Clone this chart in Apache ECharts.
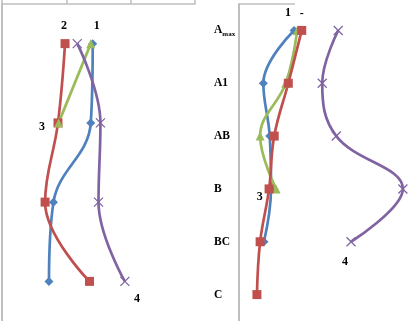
<!DOCTYPE html>
<html>
<head>
<meta charset="utf-8">
<script src="https://cdn.jsdelivr.net/npm/echarts@6/dist/echarts.min.js"></script>
<style>html,body{margin:0;padding:0;background:#fff}#c{width:408px;height:321px}</style>
</head>
<body>
<div id="c"></div>
<script>
// Left panel: 4 levels (top to bottom)
var leftLevels = ['L1', 'L2', 'L3', 'L4'];
var leftBlue = [141, 138, 80, 73];
var leftRed = [98, 87, 67, 136];
var leftGreen = [138, 88];
var leftPurple = [117, 153, 150, 191];

// Right panel: categories (top to bottom)
var rightLevels = ['Amax', 'A1', 'AB', 'B', 'BC', 'C'];
var rightBlue = [86, 38, 48, 50, 39];
var rightGreen = [91, 73, 33, 58];
var rightRed = [98, 77, 55, 47, 33, 28];
var rightPurple = [155, 130, 152, 256, 175];

var BLUE = '#4F81BD', RED = '#C0504D', GREEN = '#9BBB59', PURPLE = '#8064A2';
var XSYM = 'path://M0,0L10,10M10,0L0,10';
var lblStyle = {fontFamily: 'Liberation Serif', fontWeight: 'bold', fontSize: 12, color: '#000'};

function withLabels(arr, labels) {
  return arr.map(function (v, i) {
    if (labels[i]) {
      return {value: v, label: Object.assign({show: true, formatter: labels[i].t, position: labels[i].p, offset: labels[i].o || [0, 0]}, lblStyle)};
    }
    return v;
  });
}

function mk(name, data, color, symbol, xi) {
  return {
    name: name, type: 'line', xAxisIndex: xi, yAxisIndex: xi,
    data: data, smooth: 0.4, symbol: symbol, symbolSize: 9,
    lineStyle: {color: color, width: 2.7},
    itemStyle: {color: symbol === XSYM ? 'none' : color, borderColor: color, borderWidth: symbol === XSYM ? 1.3 : 0},
    z: 2
  };
}

var chart = echarts.init(document.getElementById('c'), null, {renderer: 'canvas'});
chart.setOption({
  backgroundColor: '#fff',
  animation: false,
  grid: [
    {left: 2, top: 4, width: 193, height: 320},
    {left: 239, top: 4, width: 169, height: 317}
  ],
  xAxis: [
    {gridIndex: 0, type: 'value', position: 'top', min: 0, max: 300, interval: 100,
     axisLine: {show: true, lineStyle: {color: '#BFBFBF', width: 1.5}},
     axisTick: {show: true, inside: false, length: 4, lineStyle: {color: '#BFBFBF', width: 1.5}},
     axisLabel: {show: false}, splitLine: {show: false}},
    {gridIndex: 1, type: 'value', position: 'top', min: 0, max: 264,
     axisLine: {show: false}, axisTick: {show: false}, axisLabel: {show: false}, splitLine: {show: false}}
  ],
  yAxis: [
    {gridIndex: 0, type: 'category', inverse: true, data: leftLevels, boundaryGap: true,
     axisLine: {show: true, lineStyle: {color: '#BFBFBF', width: 2}},
     axisTick: {show: false}, axisLabel: {show: false}},
    {gridIndex: 1, type: 'category', inverse: true, data: rightLevels, boundaryGap: true,
     axisLine: {show: true, lineStyle: {color: '#BFBFBF', width: 2}},
     axisTick: {show: false},
     axisLabel: {show: true, align: 'left', margin: 25,
       fontFamily: 'Liberation Serif', fontWeight: 'bold', fontSize: 11.5, color: '#000',
       formatter: function (v) { return v === 'Amax' ? '{a|A}{s|max}' : v; },
       rich: {a: {fontFamily: 'Liberation Serif', fontWeight: 'bold', fontSize: 11.5, color: '#000'},
              s: {fontFamily: 'Liberation Serif', fontWeight: 'bold', fontSize: 7, color: '#000', padding: [7, 0, 0, 0]}}}}
  ],
  graphic: [
    {type: 'line', shape: {x1: 239, y1: 4, x2: 295, y2: 4}, style: {stroke: '#BFBFBF', lineWidth: 1.5}}
  ],
  series: [
    mk('p1', withLabels(leftBlue, {0: {t: '1', p: 'top', o: [4, -2]}}), BLUE, 'diamond', 0),
    mk('p2', withLabels(leftRed, {0: {t: '2', p: 'top', o: [-1, -2]}}), RED, 'rect', 0),
    mk('p3', withLabels(leftGreen, {1: {t: '3', p: 'left', o: [-4, 4]}}), GREEN, 'triangle', 0),
    mk('p4', withLabels(leftPurple, {3: {t: '4', p: 'bottom', o: [12, 0]}}), PURPLE, XSYM, 0),
    mk('r1', withLabels(rightBlue, {0: {t: '1', p: 'top', o: [-6, -2]}}), BLUE, 'diamond', 1),
    mk('r3', withLabels(rightGreen, {3: {t: '3', p: 'left', o: [-4, 8]}}), GREEN, 'triangle', 1),
    mk('r2', withLabels(rightRed, {0: {t: '-', p: 'top', o: [0, -1]}}), RED, 'rect', 1),
    mk('r4', withLabels(rightPurple, {4: {t: '4', p: 'bottom', o: [-6, 2]}}), PURPLE, XSYM, 1)
  ]
});
</script>
</body>
</html>
